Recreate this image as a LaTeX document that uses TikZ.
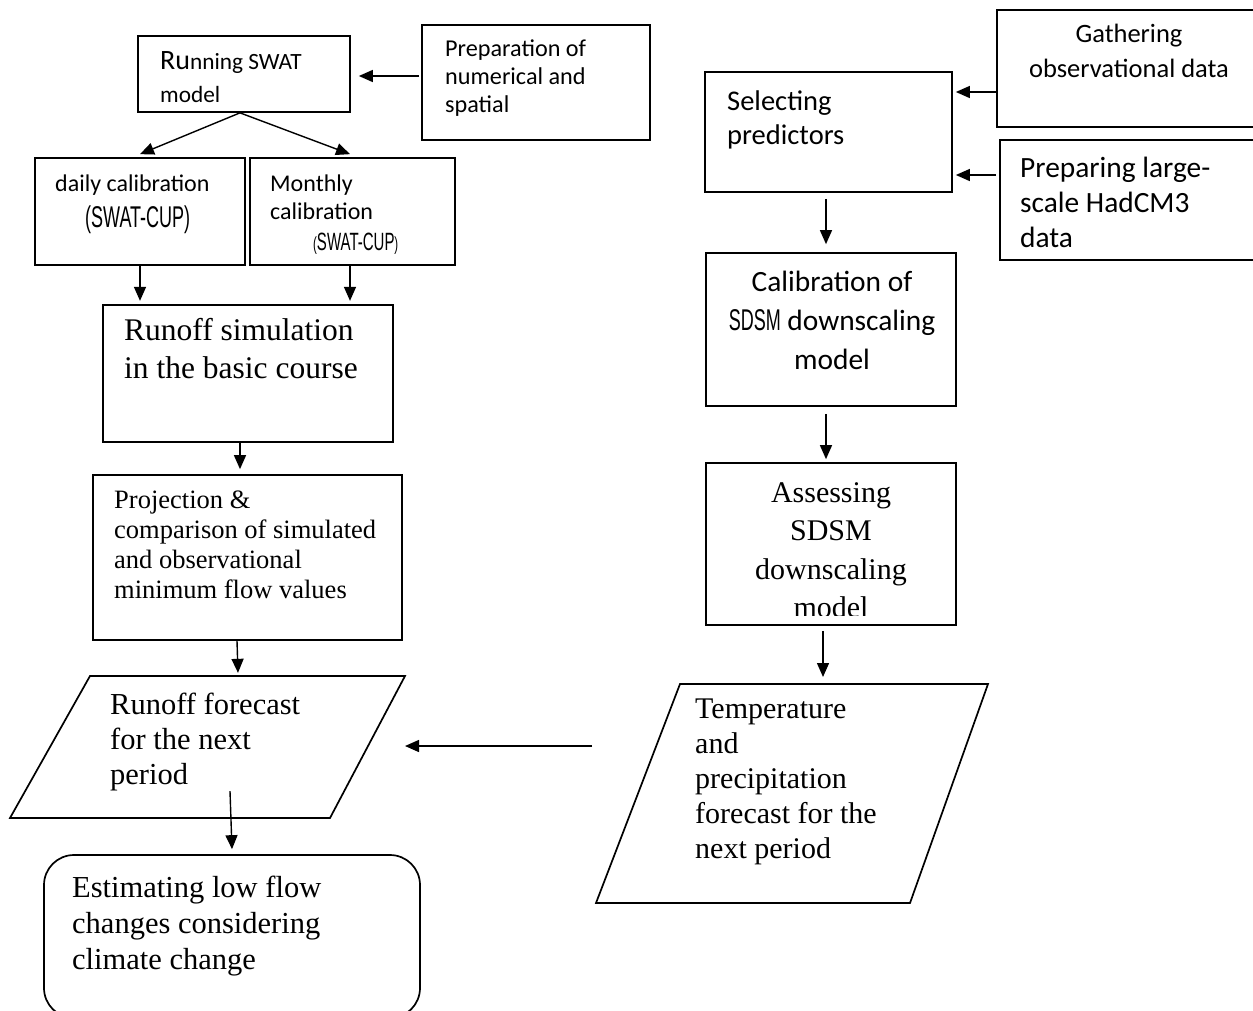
\documentclass[tikz,border=0pt]{standalone}
\usepackage{fontspec}
\setmainfont{Liberation Serif}
\newfontfamily\calfont{Carlito}
\newfontfamily\agfont[FakeStretch=0.6]{Liberation Sans}
\usetikzlibrary{arrows.meta,calc}

\tikzset{
  box/.style={draw,line width=1.7pt,inner sep=0pt},
  slant/.style={line width=1.7pt,line join=miter},
  txt/.style={anchor=north west,inner sep=0pt,align=left},
  ctxt/.style={anchor=north,inner sep=0pt,align=center},
  arr/.style={-{Triangle[length=14pt,width=12pt]},line width=1.4pt},
}

\begin{document}
\begin{tikzpicture}[x=1pt,y=-1pt]
\useasboundingbox (0,0) rectangle (1253,1010);

% SWAT side
\node[box,minimum width=212pt,minimum height=76pt] (run) at (244,74) {};
\node[box,minimum width=228pt,minimum height=115pt] (prep) at (536,82.5) {};
\node[box,minimum width=210pt,minimum height=107pt] (daily) at (140,211.5) {};
\node[box,minimum width=205pt,minimum height=107pt] (monthly) at (352.5,211.5) {};
\node[box,minimum width=290pt,minimum height=137pt] (runsim) at (248,373.5) {};
\node[box,minimum width=309pt,minimum height=165pt] (proj) at (247.5,557.5) {};
\coordinate (runfc) at (207.5,747);
\draw[slant] (90,676) -- (405,676) -- (330,818) -- (10,818) -- cycle;
\node[box,rounded corners=30pt,minimum width=376pt,minimum height=163pt] (estim) at (232,936.5) {};

% SDSM side
\node[box,minimum width=268pt,minimum height=117pt] (gather) at (1131,68.5) {};
\node[box,minimum width=265pt,minimum height=120pt] (large) at (1132.5,200) {};
\node[box,minimum width=247pt,minimum height=120pt] (select) at (828.5,132) {};
\node[box,minimum width=250pt,minimum height=153pt] (calib) at (831,329.5) {};
\node[box,minimum width=250pt,minimum height=162pt] (assess) at (831,544) {};
\coordinate (tempfc) at (792,793.5);
\draw[slant] (680,684) -- (988,684) -- (910,903) -- (596,903) -- cycle;

% texts
\node[txt,font=\calfont\fontsize{23.3}{33}\selectfont] (runT) at (160,51)
  {{\fontsize{28}{33}\selectfont Ru}nning SWAT\\model};
\node[txt,font=\calfont\fontsize{24.2}{28}\selectfont] (prepT) at (445,40)
  {Preparation of\\numerical and\\spatial};
\node[txt,font=\calfont\fontsize{24}{32}\selectfont] (dailyT) at (55,175) {daily calibration};
\node[txt,font=\agfont\fontsize{30}{32}\selectfont] (dailyC) at (85,206) {(SWAT-CUP)};
\node[txt,font=\calfont\fontsize{24}{28}\selectfont] (monthlyT) at (270,175) {Monthly\\calibration};
\node[txt,font=\agfont\fontsize{25}{28}\selectfont] (monthlyC) at (313,233)
  {{\fontsize{19}{20}\selectfont(}SWAT-CUP{\fontsize{19}{20}\selectfont)}};
\node[txt,font=\fontsize{31.5}{38}\selectfont] (runsimT) at (124,318)
  {Runoff simulation\\in the basic course};
\node[txt,font=\fontsize{26.5}{30}\selectfont] (projT) at (114,491)
  {Projection \&\\comparison of simulated\\and observational\\minimum flow values};
\node[txt,font=\fontsize{30.5}{35}\selectfont] (runfcT) at (110,693)
  {Runoff forecast\\for the next\\period};
\node[txt,font=\fontsize{30.5}{36}\selectfont] (estimT) at (72,876)
  {Estimating low flow\\changes considering\\climate change};

\node[ctxt,font=\calfont\fontsize{26.5}{35}\selectfont] (gatherT) at (1129,24)
  {Gathering\\observational data};
\node[txt,font=\calfont\fontsize{29.4}{35}\selectfont] (largeT) at (1020,157)
  {Preparing large-\\scale HadCM3\\data};
\node[txt,font=\calfont\fontsize{28.5}{34}\selectfont] (selectT) at (727,91)
  {Selecting\\predictors};
\node[ctxt,font=\calfont\fontsize{29.4}{39}\selectfont] (calibT) at (832,271)
  {Calibration of\\{\agfont\fontsize{30}{39}\selectfont SDSM} downscaling\\model};
\begin{scope}
  \clip ($(assess.north west)+(1,1)$) rectangle ($(assess.south east)+(-1,-10)$);
  \node[ctxt,font=\fontsize{30}{38.5}\selectfont] (assessT) at (831,482)
    {Assessing\\SDSM\\downscaling\\model};
\end{scope}
\node[txt,font=\fontsize{30}{35}\selectfont] (tempfcT) at (695,699)
  {Temperature\\and\\precipitation\\forecast for the\\next period};

% connectors
\draw[arr] ($(prep.west)+(-2,-6.5)$) -- ($(run.east)+(8,2)$);
\draw[arr] ($(run.south)+(-4,0)$) -- ($(daily.north)+(0,-3)$);
\draw[arr] ($(run.south)+(-4,0)$) -- ($(monthly.north)+(-2.5,-3)$);
\draw[arr] (daily.south) -- ($(daily.south)+(0,35)$);
\draw[arr] ($(monthly.south)+(-2.5,0)$) -- ($(monthly.south)+(-2.5,35)$);
\draw[arr] ($(runsim.south)+(-8,0)$) -- ($(proj.north)+(-7.5,-5)$);
\draw[arr] ($(proj.south)+(-10.5,0)$) -- ($(proj.south)+(-9.5,32)$);
\draw[arr] ($(estim.north)+(-2,-63)$) -- ($(estim.north)+(0,-5)$);
\draw[arr] ($(tempfc)+(-200,-47.5)$) -- ($(runfc)+(197.5,-1)$);

\draw[arr] ($(gather.west)+(0,23.5)$) -- ($(select.east)+(3,-40)$);
\draw[arr] ($(large.west)+(-3,-25)$) -- ($(select.east)+(3,43)$);
\draw[arr] ($(select.south)+(-2.5,6)$) -- ($(calib.north)+(-5,-8)$);
\draw[arr] ($(calib.south)+(-5,7)$) -- ($(assess.north)+(-5,-3)$);
\draw[arr] ($(assess.south)+(-8,5)$) -- ($(tempfc)+(31,-116.5)$);
\end{tikzpicture}
\end{document}
